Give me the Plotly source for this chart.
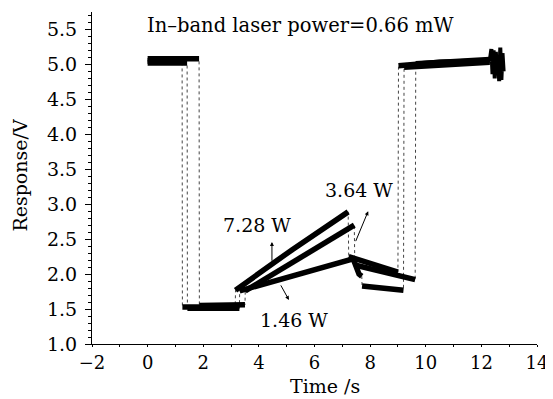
import plotly.graph_objects as go

# ---- data (time in s, response in V) ----
# 7.28 W trace
t_728 = [0.0, 1.24, 1.25, 3.15, 3.16, 5.2, 7.21, 7.23, 8.1, 9.0, 9.02, 10.5, 12.3]
v_728 = [5.05, 5.05, 1.53, 1.53, 1.77, 2.35, 2.89, 2.25, 2.15, 2.03, 4.98, 5.03, 5.05]
# 3.64 W trace
t_364 = [0.0, 1.85, 1.86, 3.50, 3.51, 5.4, 7.43, 7.45, 8.5, 9.62, 9.64, 11.0, 12.3]
v_364 = [5.08, 5.08, 1.55, 1.56, 1.76, 2.22, 2.70, 2.13, 2.03, 1.92, 5.01, 5.05, 5.07]
# 1.46 W trace
t_146 = [0.0, 1.42, 1.43, 3.30, 3.31, 5.4, 7.39, 7.6, 7.70, 7.71, 9.2, 9.22, 11.0, 12.3]
v_146 = [5.02, 5.02, 1.51, 1.51, 1.76, 1.99, 2.22, 2.00, 1.97, 1.83, 1.77, 4.96, 5.01, 5.03]
# noise burst at the end of the record
t_end = [12.3, 12.36, 12.4, 12.44, 12.48, 12.52, 12.56, 12.6, 12.64, 12.68, 12.72, 12.76, 12.8]
v_end = [5.05, 5.22, 4.86, 5.20, 4.80, 5.18, 4.92, 5.10, 4.76, 5.24, 4.78, 5.16, 4.90]

x_ticks = [-2, 0, 2, 4, 6, 8, 10, 12, 14]
y_ticks = [1.0, 1.5, 2.0, 2.5, 3.0, 3.5, 4.0, 4.5, 5.0, 5.5]

FONT = "DejaVu Serif"


def thick_version(t, v):
    """Break the polyline at the near-vertical jumps so only plateaus/ramps are thick."""
    xs, ys = [t[0]], [v[0]]
    for i in range(1, len(t)):
        if t[i] - t[i - 1] < 0.05:
            xs.append(None)
            ys.append(None)
        xs.append(t[i])
        ys.append(v[i])
    return xs, ys


fig = go.Figure()
for t, v in [(t_728, v_728), (t_364, v_364), (t_146, v_146)]:
    fig.add_trace(go.Scatter(x=t, y=v, mode="lines",
                             line=dict(color="#444444", width=1, dash="dot"),
                             showlegend=False, hoverinfo="skip"))
for t, v in [(t_728, v_728), (t_364, v_364), (t_146, v_146)]:
    xs, ys = thick_version(t, v)
    fig.add_trace(go.Scatter(x=xs, y=ys, mode="lines", connectgaps=False,
                             line=dict(color="black", width=5.5),
                             showlegend=False))
fig.add_trace(go.Scatter(x=t_end, y=v_end, mode="lines",
                         line=dict(color="black", width=4), showlegend=False))

txt = dict(family=FONT, size=19, color="black")
ann = []
ann.append(dict(x=-0.09, y=5.55, text="In\u2013band laser power=0.66 mW",
                showarrow=False, xanchor="left", yanchor="middle",
                font=dict(family=FONT, size=19.5, color="black")))
ann.append(dict(x=7.6, y=3.2, text="3.64 W", showarrow=False, font=txt))
ann.append(dict(x=3.94, y=2.70, text="7.28 W", showarrow=False, font=txt))
ann.append(dict(x=5.27, y=1.34, text="1.46 W", showarrow=False, font=txt))
# arrows
arrow_style = dict(showarrow=True, arrowhead=2, arrowsize=0.8, arrowwidth=1,
                   arrowcolor="black", text="", axref="x", ayref="y")
ann.append(dict(x=4.47, y=2.46, ax=4.47, ay=2.17, **arrow_style))
ann.append(dict(x=7.93, y=2.90, ax=7.46, ay=2.45, **arrow_style))
ann.append(dict(x=5.08, y=1.63, ax=4.76, ay=1.86, **arrow_style))
for a in ann:
    a["xref"] = "x"
    a["yref"] = "y"
# axis titles
ann.append(dict(x=-0.162, y=0.51, xref="paper", yref="paper", text="Response/V",
                textangle=-90, showarrow=False, xanchor="center", yanchor="middle",
                font=txt))
ann.append(dict(x=0.524, y=-0.125, xref="paper", yref="paper", text="Time /s",
                showarrow=False, xanchor="center", yanchor="middle", font=txt))

# the page body has an 8 px margin, so the figure is sized to fit the window
fig.update_layout(
    width=545, height=391,
    margin=dict(l=84, r=16, t=4, b=55),
    paper_bgcolor="white", plot_bgcolor="white",
    font=dict(family=FONT, size=17, color="black"),
    annotations=ann,
    xaxis=dict(range=[-2, 14], tickvals=x_ticks, showgrid=False, zeroline=False,
               showline=True, linecolor="black", linewidth=1,
               ticks="outside", ticklen=2, tickcolor="black",
               minor=dict(dtick=1, ticks="outside", ticklen=2, tickcolor="black"),
               tickfont=dict(family=FONT, size=18)),
    yaxis=dict(range=[1.0, 5.75], tickvals=y_ticks, ticktext=[f"{v:.1f}" for v in y_ticks],
               showgrid=False, zeroline=False,
               showline=True, linecolor="black", linewidth=1,
               ticks="outside", ticklen=6, tickcolor="black",
               ticklabelstandoff=4,
               minor=dict(dtick=0.1, ticks="outside", ticklen=3, tickcolor="black"),
               tickfont=dict(family=FONT, size=19)),
)

fig.write_html("out.html")
